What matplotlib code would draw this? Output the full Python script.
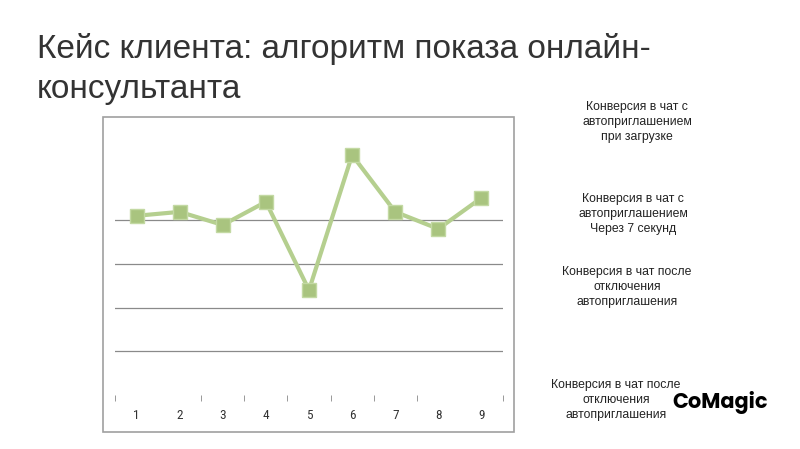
import matplotlib.pyplot as plt
from matplotlib.patches import Rectangle

# data (grid lines have no labels, values in grid units)
categories = ['1', '2', '3', '4', '5', '6', '7', '8', '9']
values = [4.10, 4.19, 3.89, 4.42, 2.40, 5.49, 4.19, 3.80, 4.51]
grid_levels = [1, 2, 3, 4]
tick_bounds = [0, 2, 3, 4, 5, 6, 7, 9]

title_lines = ['Кейс клиента: алгоритм показа онлайн-', 'консультанта']
notes = [
    'Конверсия в чат с\nавтоприглашением\nпри загрузке',
    'Конверсия в чат с\nавтоприглашением\nЧерез 7 секунд',
    'Конверсия в чат после\nотключения\nавтоприглашения',
    'Конверсия в чат после\nотключения\nавтоприглашения',
]

W, H = 800, 449
fig = plt.figure(figsize=(W / 100, H / 100), dpi=100)
fig.patch.set_facecolor('white')

# chart frame
fig.patches.append(Rectangle((103 / W, 1 - 432 / H), 411 / W, 315 / H,
                             transform=fig.transFigure, fill=False,
                             edgecolor='#a0a0a0', linewidth=1.2))

ax = fig.add_axes([115 / W, 1 - 395 / H, 388 / W, 271 / H])
x = list(range(len(categories)))
ax.plot(x, values, color='#b5cf8f', linewidth=3, marker='s', markersize=10,
        markerfacecolor='#a9c47f', markeredgecolor='#c3d9a3', markeredgewidth=1,
        zorder=3)

ax.set_xlim(-0.5, len(categories) - 0.5)
ax.set_ylim(0, 6.2)
for lvl in grid_levels:
    ax.axhline(lvl, color='#8a8a8a', linewidth=0.9, zorder=1)

for s in ax.spines.values():
    s.set_visible(False)
ax.set_yticks([])
ax.set_xticks(x)
ax.set_xticklabels(categories, fontsize=9.5, color='#333333',
                   family=['Roboto Condensed', 'DejaVu Sans'])
ax.tick_params(axis='x', which='major', length=0, pad=10)
ax.set_xticks([b - 0.5 for b in tick_bounds], minor=True)
ax.tick_params(axis='x', which='minor', length=4, color='#888888', direction='out')

# title
for i, line in enumerate(title_lines):
    fig.text(37 / W, 1 - (58 + i * 40) / H, line, fontsize=24, color='#333333',
             family=['Liberation Sans', 'DejaVu Sans'], va='baseline')

# side notes
note_pos = [(637, 122), (633, 214), (627, 287), (616, 400)]
for (nx, ny), txt in zip(note_pos, notes):
    fig.text(nx / W, 1 - ny / H, txt, fontsize=8.8, color='#222222',
             family=['Liberation Sans', 'DejaVu Sans'], ha='center', va='center',
             linespacing=1.35)

fig.text(720 / W, 1 - 403 / H, 'CoMagic', fontsize=15, fontweight='bold',
         color='black', family=['Poppins', 'Montserrat', 'DejaVu Sans'],
         ha='center', va='center')

fig.savefig('out.png', dpi=100)
